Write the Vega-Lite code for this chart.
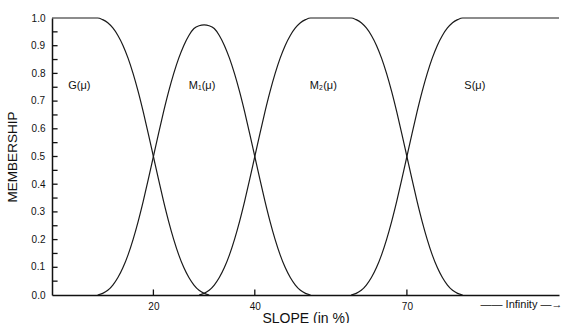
{
  "$schema": "https://vega.github.io/schema/vega-lite/v6.json",
  "width": 507,
  "height": 277,
  "autosize": {"type": "none"},
  "padding": {"left": 52, "top": 18, "right": 8, "bottom": 28},
  "background": "white",
  "config": {
    "view": {"stroke": null},
    "font": "Liberation Sans",
    "axis": {"grid": false, "ticks": false, "domainColor": "#111", "domainWidth": 1.5, "labelColor": "#111", "titleColor": "#111", "labelFont": "Liberation Sans", "titleFont": "Liberation Sans", "titleFontWeight": "normal", "labelOverlap": false}
  },
  "datasets": {
    "curves": [
      {"series": "G", "slope": 0, "m": 1}, {"series": "G", "slope": 9, "m": 1}, {"series": "G", "slope": 10, "m": 0.994}, {"series": "G", "slope": 11, "m": 0.983}, {"series": "G", "slope": 12, "m": 0.964}, {"series": "G", "slope": 13, "m": 0.937}, {"series": "G", "slope": 14, "m": 0.901}, {"series": "G", "slope": 15, "m": 0.855}, {"series": "G", "slope": 16, "m": 0.799}, {"series": "G", "slope": 17, "m": 0.734}, {"series": "G", "slope": 18, "m": 0.661}, {"series": "G", "slope": 19, "m": 0.582}, {"series": "G", "slope": 20, "m": 0.5}, {"series": "G", "slope": 21, "m": 0.418}, {"series": "G", "slope": 22, "m": 0.339}, {"series": "G", "slope": 23, "m": 0.266}, {"series": "G", "slope": 24, "m": 0.201}, {"series": "G", "slope": 25, "m": 0.145}, {"series": "G", "slope": 26, "m": 0.099}, {"series": "G", "slope": 27, "m": 0.063}, {"series": "G", "slope": 28, "m": 0.036}, {"series": "G", "slope": 29, "m": 0.017}, {"series": "G", "slope": 30, "m": 0.006}, {"series": "G", "slope": 31, "m": 0},
      {"series": "M1", "slope": 9, "m": 0}, {"series": "M1", "slope": 10, "m": 0.006}, {"series": "M1", "slope": 11, "m": 0.017}, {"series": "M1", "slope": 12, "m": 0.036}, {"series": "M1", "slope": 13, "m": 0.063}, {"series": "M1", "slope": 14, "m": 0.099}, {"series": "M1", "slope": 15, "m": 0.145}, {"series": "M1", "slope": 16, "m": 0.201}, {"series": "M1", "slope": 17, "m": 0.266}, {"series": "M1", "slope": 18, "m": 0.339}, {"series": "M1", "slope": 19, "m": 0.418}, {"series": "M1", "slope": 20, "m": 0.5}, {"series": "M1", "slope": 21, "m": 0.582}, {"series": "M1", "slope": 22, "m": 0.661}, {"series": "M1", "slope": 23, "m": 0.734}, {"series": "M1", "slope": 24, "m": 0.799}, {"series": "M1", "slope": 25, "m": 0.855}, {"series": "M1", "slope": 26, "m": 0.901}, {"series": "M1", "slope": 27, "m": 0.937}, {"series": "M1", "slope": 28, "m": 0.962}, {"series": "M1", "slope": 29, "m": 0.972}, {"series": "M1", "slope": 30, "m": 0.975}, {"series": "M1", "slope": 31, "m": 0.972}, {"series": "M1", "slope": 32, "m": 0.962}, {"series": "M1", "slope": 33, "m": 0.937}, {"series": "M1", "slope": 34, "m": 0.901}, {"series": "M1", "slope": 35, "m": 0.855}, {"series": "M1", "slope": 36, "m": 0.799}, {"series": "M1", "slope": 37, "m": 0.734}, {"series": "M1", "slope": 38, "m": 0.661}, {"series": "M1", "slope": 39, "m": 0.582}, {"series": "M1", "slope": 40, "m": 0.5}, {"series": "M1", "slope": 41, "m": 0.418}, {"series": "M1", "slope": 42, "m": 0.339}, {"series": "M1", "slope": 43, "m": 0.266}, {"series": "M1", "slope": 44, "m": 0.201}, {"series": "M1", "slope": 45, "m": 0.145}, {"series": "M1", "slope": 46, "m": 0.099}, {"series": "M1", "slope": 47, "m": 0.063}, {"series": "M1", "slope": 48, "m": 0.036}, {"series": "M1", "slope": 49, "m": 0.017}, {"series": "M1", "slope": 50, "m": 0.006}, {"series": "M1", "slope": 51, "m": 0},
      {"series": "M2", "slope": 29, "m": 0}, {"series": "M2", "slope": 30, "m": 0.006}, {"series": "M2", "slope": 31, "m": 0.017}, {"series": "M2", "slope": 32, "m": 0.036}, {"series": "M2", "slope": 33, "m": 0.063}, {"series": "M2", "slope": 34, "m": 0.099}, {"series": "M2", "slope": 35, "m": 0.145}, {"series": "M2", "slope": 36, "m": 0.201}, {"series": "M2", "slope": 37, "m": 0.266}, {"series": "M2", "slope": 38, "m": 0.339}, {"series": "M2", "slope": 39, "m": 0.418}, {"series": "M2", "slope": 40, "m": 0.5}, {"series": "M2", "slope": 41, "m": 0.582}, {"series": "M2", "slope": 42, "m": 0.661}, {"series": "M2", "slope": 43, "m": 0.734}, {"series": "M2", "slope": 44, "m": 0.799}, {"series": "M2", "slope": 45, "m": 0.855}, {"series": "M2", "slope": 46, "m": 0.901}, {"series": "M2", "slope": 47, "m": 0.937}, {"series": "M2", "slope": 48, "m": 0.964}, {"series": "M2", "slope": 49, "m": 0.983}, {"series": "M2", "slope": 50, "m": 0.994}, {"series": "M2", "slope": 51, "m": 1}, {"series": "M2", "slope": 59, "m": 1}, {"series": "M2", "slope": 60, "m": 0.994}, {"series": "M2", "slope": 61, "m": 0.983}, {"series": "M2", "slope": 62, "m": 0.964}, {"series": "M2", "slope": 63, "m": 0.937}, {"series": "M2", "slope": 64, "m": 0.901}, {"series": "M2", "slope": 65, "m": 0.855}, {"series": "M2", "slope": 66, "m": 0.799}, {"series": "M2", "slope": 67, "m": 0.734}, {"series": "M2", "slope": 68, "m": 0.661}, {"series": "M2", "slope": 69, "m": 0.582}, {"series": "M2", "slope": 70, "m": 0.5}, {"series": "M2", "slope": 71, "m": 0.418}, {"series": "M2", "slope": 72, "m": 0.339}, {"series": "M2", "slope": 73, "m": 0.266}, {"series": "M2", "slope": 74, "m": 0.201}, {"series": "M2", "slope": 75, "m": 0.145}, {"series": "M2", "slope": 76, "m": 0.099}, {"series": "M2", "slope": 77, "m": 0.063}, {"series": "M2", "slope": 78, "m": 0.036}, {"series": "M2", "slope": 79, "m": 0.017}, {"series": "M2", "slope": 80, "m": 0.006}, {"series": "M2", "slope": 81, "m": 0},
      {"series": "S", "slope": 59, "m": 0}, {"series": "S", "slope": 60, "m": 0.006}, {"series": "S", "slope": 61, "m": 0.017}, {"series": "S", "slope": 62, "m": 0.036}, {"series": "S", "slope": 63, "m": 0.063}, {"series": "S", "slope": 64, "m": 0.099}, {"series": "S", "slope": 65, "m": 0.145}, {"series": "S", "slope": 66, "m": 0.201}, {"series": "S", "slope": 67, "m": 0.266}, {"series": "S", "slope": 68, "m": 0.339}, {"series": "S", "slope": 69, "m": 0.418}, {"series": "S", "slope": 70, "m": 0.5}, {"series": "S", "slope": 71, "m": 0.582}, {"series": "S", "slope": 72, "m": 0.661}, {"series": "S", "slope": 73, "m": 0.734}, {"series": "S", "slope": 74, "m": 0.799}, {"series": "S", "slope": 75, "m": 0.855}, {"series": "S", "slope": 76, "m": 0.901}, {"series": "S", "slope": 77, "m": 0.937}, {"series": "S", "slope": 78, "m": 0.964}, {"series": "S", "slope": 79, "m": 0.983}, {"series": "S", "slope": 80, "m": 0.994}, {"series": "S", "slope": 81, "m": 1}, {"series": "S", "slope": 100, "m": 1}
    ],
    "labels": [
      {"slope": 5.4, "m": 0.755, "text": "G(μ)", "size": 11},
      {"slope": 29.6, "m": 0.755, "text": "M₁(μ)", "size": 11},
      {"slope": 53.5, "m": 0.755, "text": "M₂(μ)", "size": 11},
      {"slope": 83.4, "m": 0.755, "text": "S(μ)", "size": 11},
      {"slope": 92.6, "m": -0.036, "text": "—— Infinity —→", "size": 11}
    ],
    "yticks": [
      {"m": 0.05, "lab": ""}, {"m": 0.1, "lab": "0.1"}, {"m": 0.15, "lab": ""}, {"m": 0.2, "lab": ""}, {"m": 0.25, "lab": ""}, {"m": 0.3, "lab": "0.3"}, {"m": 0.35, "lab": ""}, {"m": 0.4, "lab": ""}, {"m": 0.45, "lab": ""}, {"m": 0.5, "lab": "0.5"}, {"m": 0.55, "lab": ""}, {"m": 0.6, "lab": ""}, {"m": 0.65, "lab": ""}, {"m": 0.7, "lab": "0.7"}, {"m": 0.75, "lab": ""}, {"m": 0.8, "lab": ""}, {"m": 0.85, "lab": ""}, {"m": 0.9, "lab": "0.9"}, {"m": 0.95, "lab": ""}
    ],
    "xticks": [{"slope": 20}, {"slope": 40}, {"slope": 70}]
  },
  "layer": [
    {
      "data": {"name": "curves"},
      "mark": {"type": "line", "interpolate": "monotone", "color": "#1a1a1a", "strokeWidth": 1.2, "clip": false},
      "encoding": {
        "x": {"field": "slope", "type": "quantitative", "scale": {"domain": [0, 100], "nice": false, "zero": false},
          "axis": {"values": [20, 40, 70], "title": "SLOPE (in %)", "titleFontSize": 14, "titlePadding": 0, "labelFontSize": 10, "labelPadding": 6}},
        "y": {"field": "m", "type": "quantitative", "scale": {"domain": [0, 1], "nice": false},
          "axis": {"values": [0, 0.1, 0.2, 0.3, 0.4, 0.5, 0.6, 0.7, 0.8, 0.9, 1.0], "format": ".1f",
            "title": "MEMBERSHIP", "titleFontSize": 13.5, "titlePadding": 12, "labelFontSize": 10, "labelPadding": 7}},
        "detail": {"field": "series"}
      }
    },
    {
      "data": {"name": "yticks"},
      "mark": {"type": "rule", "color": "#111", "strokeWidth": 1.3},
      "encoding": {
        "x": {"datum": 0, "type": "quantitative"},
        "x2": {"datum": 1.1},
        "y": {"field": "m", "type": "quantitative"}
      }
    },
    {
      "data": {"name": "yticks"},
      "mark": {"type": "text", "color": "#111", "align": "right", "dx": -7, "fontSize": 10, "clip": false, "font": "Liberation Sans"},
      "encoding": {
        "x": {"datum": 0, "type": "quantitative"},
        "y": {"field": "m", "type": "quantitative"},
        "text": {"field": "lab"}
      }
    },
    {
      "data": {"name": "xticks"},
      "mark": {"type": "rule", "color": "#111", "strokeWidth": 1.3},
      "encoding": {
        "x": {"field": "slope", "type": "quantitative"},
        "y": {"datum": 0, "type": "quantitative"},
        "y2": {"datum": 0.02}
      }
    },
    {
      "data": {"name": "labels"},
      "mark": {"type": "text", "color": "#111", "clip": false, "font": "Liberation Sans"},
      "encoding": {
        "x": {"field": "slope", "type": "quantitative"},
        "y": {"field": "m", "type": "quantitative"},
        "text": {"field": "text"},
        "size": {"field": "size", "type": "quantitative", "scale": null}
      }
    }
  ]
}
